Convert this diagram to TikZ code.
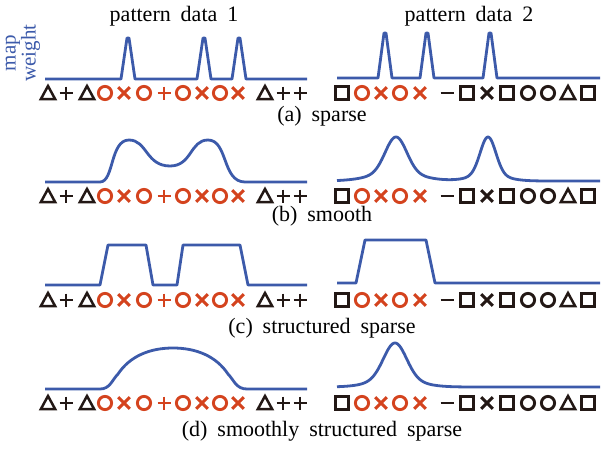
\documentclass[tikz,border=0pt]{standalone}
\usepackage{fontspec}
\setmainfont{Liberation Serif}[WordSpace=1.8]
\definecolor{wblue}{HTML}{3C5AAA}
\definecolor{sred}{HTML}{D4431E}
\definecolor{sblk}{HTML}{231815}
\tikzset{
  wline/.style={wblue, line width=2.8pt, line join=round},
  sym/.style={line width=2.9pt},
  lbl/.style={font=\fontsize{22}{26}\selectfont, anchor=base, inner sep=0pt},
  pics/symtri/.style={code={\draw[sym, draw=#1, line width=2.5pt, line join=miter, miter limit=3] (-7.2,6.2) -- (0,-7) -- (7.2,6.2) -- cycle;}},
  pics/symplus/.style={code={\draw[sym, draw=#1] (-6.5,0) -- (6.5,0) (0,-6.5) -- (0,6.5);}},
  pics/symminus/.style={code={\draw[sym, draw=#1] (-6.5,0) -- (6.5,0);}},
  pics/symcirc/.style={code={\draw[sym, draw=#1] (0,0) circle[radius=6.6];}},
  pics/symcross/.style={code={\draw[sym, draw=#1] (-5.8,-5.8) -- (5.8,5.8) (-5.8,5.8) -- (5.8,-5.8);}},
  pics/symsq/.style={code={\draw[sym, draw=#1] (-6.2,-6.2) rectangle (6.2,6.2);}},
}
\newcommand{\rowleft}[1]{%
  \pic at (48,#1) {symtri=sblk};
  \pic at (66,#1) {symplus=sblk};
  \pic at (87,#1) {symtri=sblk};
  \pic at (105,#1) {symcirc=sred};
  \pic at (124,#1) {symcross=sred};
  \pic at (144,#1) {symcirc=sred};
  \pic at (164,#1) {symplus=sred};
  \pic at (183,#1) {symcirc=sred};
  \pic at (202,#1) {symcross=sred};
  \pic at (220,#1) {symcirc=sred};
  \pic at (238,#1) {symcross=sred};
  \pic at (265,#1) {symtri=sblk};
  \pic at (283,#1) {symplus=sblk};
  \pic at (300,#1) {symplus=sblk};
}
\newcommand{\rowright}[1]{%
  \pic at (342,#1) {symsq=sblk};
  \pic at (362,#1) {symcirc=sred};
  \pic at (381,#1) {symcross=sred};
  \pic at (400,#1) {symcirc=sred};
  \pic at (420,#1) {symcross=sred};
  \pic at (447,#1) {symminus=sblk};
  \pic at (467,#1) {symsq=sblk};
  \pic at (487,#1) {symcross=sblk};
  \pic at (507,#1) {symsq=sblk};
  \pic at (528,#1) {symcirc=sblk};
  \pic at (548,#1) {symcirc=sblk};
  \pic at (568,#1) {symtri=sblk};
  \pic at (588,#1) {symsq=sblk};
}
\begin{document}
\begin{tikzpicture}[x=1pt, y=-1pt]
\useasboundingbox (0,0) rectangle (604,450);

% titles
\node[lbl] (t1) at (174,21) {pattern data 1};
\node[lbl] (t2) at (469,21) {pattern data 2};
\node[wblue, rotate=90, align=center, font=\fontsize{21}{19}\selectfont, inner sep=0pt] (mw) at (23,53) {map\\weight};

% (a) sparse
\draw[wline] (45,79) -- (121,79) -- (127,38) -- (129,38) -- (135,79) -- (197,79) -- (203,38) -- (205,38) -- (211,79)
  -- (232,79) -- (238,38) -- (240,38) -- (246,79) -- (307,79);
\draw[wline] (337,78) -- (378,78) -- (384,33) -- (386,33) -- (392,78) -- (420,78) -- (426,33) -- (428,33) -- (434,78)
  -- (483,78) -- (489,33) -- (491,33) -- (497,78) -- (600,78);
\rowleft{93}
\rowright{93}
\node[lbl] (ca) at (322,121) {(a) sparse};

% (b) smooth
\draw[wline] (45,182) -- (100,182) .. controls (114,182) and (110,140) .. (129,140)
  .. controls (147,140) and (146,166) .. (170,166)
  .. controls (192,166) and (190,140) .. (208,140)
  .. controls (228,140) and (222,182) .. (245,182) -- (307,182);
\draw[wline] plot[domain=337:600, samples=300, smooth] (\x, {181 - 36*exp(-((\x-396)/15)^2) - 8*exp(-((\x-396)/35)^2) - 38*exp(-((\x-488)/11)^2) - 6*exp(-((\x-488)/25)^2)});
\rowleft{196}
\rowright{196}
\node[lbl] (cb) at (322,221) {(b) smooth};

% (c) structured sparse
\draw[wline] (45,285) -- (100,285) -- (108,245) -- (146,245) -- (153,285) -- (177,285) -- (183,245) -- (240,245) -- (248,285) -- (307,285);
\draw[wline] (337,283) -- (356,283) -- (365,240) -- (426,240) -- (435,283) -- (600,283);
\rowleft{300}
\rowright{300}
\node[lbl] (cc) at (322,333) {(c) structured sparse};

% (d) smoothly structured sparse
\draw[wline] (45,389) -- (100,389) .. controls (110,389) and (112,380) .. (118,374)
  .. controls (130,356) and (150,348) .. (173,348)
  .. controls (196,348) and (216,356) .. (228,374)
  .. controls (234,380) and (236,389) .. (247,389) -- (307,389);
\draw[wline] plot[domain=337:600, samples=300, smooth] (\x, {387 - 36*exp(-((\x-395)/16)^2) - 8*exp(-((\x-395)/32)^2)});
\rowleft{403}
\rowright{403}
\node[lbl] (cd) at (322,436) {(d) smoothly structured sparse};
\end{tikzpicture}
\end{document}
